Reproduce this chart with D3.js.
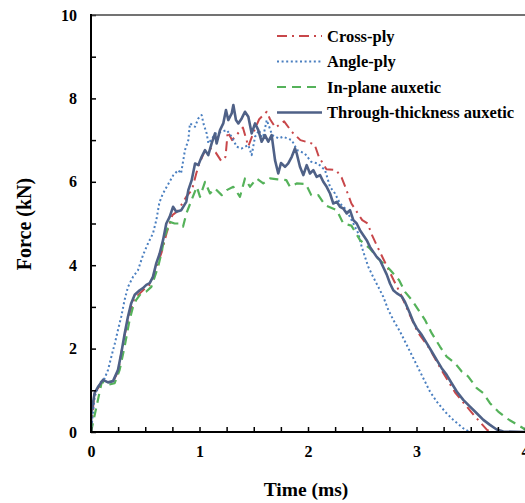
<!DOCTYPE html>
<html><head><meta charset="utf-8">
<script src="https://cdn.jsdelivr.net/npm/d3@7"></script>
<style>
html,body{margin:0;padding:0;background:#fff;}
svg{display:block;}
text{font-family:"Liberation Serif","Times New Roman",serif;font-weight:bold;fill:#000;}
</style></head>
<body>
<svg id="chart" width="525" height="503"></svg>
<script>
// ---- data ----
const xTicks = [0, 1, 2, 3, 4];
const yTicks = [0, 2, 4, 6, 8, 10];
const seriesNames = ["Cross-ply", "Angle-ply", "In-plane auxetic", "Through-thickness auxetic"];

const crossPly = [
[0,0],[0.03,0.9],[0.1,1.2],[0.2,1.2],[0.25,1.45],[0.3,2.2],[0.35,2.8],[0.4,3.2],[0.5,3.45],[0.55,3.55],
[0.6,3.95],[0.65,4.3],[0.7,4.8],[0.75,5.2],[0.8,5.3],[0.88,5.65],[0.93,5.8],[0.97,6.2],[1.0,6.45],[1.05,6.75],
[1.1,6.8],[1.15,6.7],[1.2,6.5],[1.24,6.6],[1.26,7.2],[1.3,7.0],[1.4,7.3],[1.45,6.85],[1.5,7.2],[1.55,7.5],
[1.62,7.68],[1.65,7.5],[1.7,7.3],[1.78,7.45],[1.85,7.2],[1.93,7.0],[2.06,6.9],[2.1,6.6],[2.17,6.3],[2.26,6.28],
[2.31,6.1],[2.34,5.9],[2.4,5.48],[2.43,5.36],[2.5,5.08],[2.55,5.0],[2.59,4.72],[2.64,4.44],[2.7,4.12],[2.76,3.8],
[2.79,3.64],[2.85,3.33],[2.94,2.8],[3.01,2.4],[3.12,2.0],[3.22,1.53],[3.36,0.93],[3.54,0.37],[3.65,0.05],[3.7,0],[4.0,0]
];

const anglePly = [
[0,0],[0.034,0.85],[0.08,1.17],[0.126,1.29],[0.157,1.49],[0.188,1.81],[0.22,2.13],[0.249,2.45],[0.279,2.77],[0.31,3.17],
[0.341,3.48],[0.387,3.72],[0.433,3.88],[0.479,4.24],[0.525,4.52],[0.571,4.76],[0.602,5.08],[0.63,5.5],[0.66,5.7],[0.698,5.88],
[0.759,6.16],[0.804,6.28],[0.83,6.2],[0.866,6.76],[0.897,7.0],[0.912,7.4],[0.958,7.32],[0.989,7.52],[1.02,7.6],[1.036,7.4],
[1.066,7.16],[1.082,6.92],[1.15,7.16],[1.205,7.2],[1.251,7.24],[1.297,7.08],[1.343,6.84],[1.389,6.8],[1.45,6.88],[1.481,6.64],
[1.512,7.08],[1.55,7.24],[1.58,7.0],[1.62,7.48],[1.67,7.12],[1.73,7.04],[1.77,7.08],[1.85,7.0],[1.9,6.76],[1.97,6.68],
[2.03,6.48],[2.09,6.44],[2.157,6.28],[2.203,5.88],[2.249,5.72],[2.295,5.48],[2.341,5.36],[2.387,5.16],[2.433,4.92],[2.464,4.76],
[2.495,4.44],[2.525,4.2],[2.556,3.96],[2.6,3.72],[2.648,3.48],[2.694,3.24],[2.74,2.93],[2.786,2.69],[2.848,2.41],[2.894,2.17],
[2.94,1.93],[2.986,1.69],[3.032,1.45],[3.078,1.21],[3.124,0.97],[3.186,0.73],[3.262,0.49],[3.339,0.29],[3.431,0.09],[3.49,0],[4.0,0]
];

const inPlaneAuxetic = [
[0,0],[0.05,0.6],[0.1,1.21],[0.157,1.13],[0.218,1.17],[0.264,1.49],[0.31,2.05],[0.356,2.69],[0.387,3.0],[0.417,3.17],
[0.463,3.33],[0.51,3.37],[0.556,3.48],[0.587,3.72],[0.618,3.96],[0.648,4.28],[0.679,4.68],[0.725,5.04],[0.771,5.0],[0.818,5.0],
[0.848,4.92],[0.879,5.24],[0.925,5.55],[0.975,5.88],[1.005,5.64],[1.051,6.0],[1.097,5.72],[1.143,5.84],[1.205,5.68],[1.251,5.8],
[1.312,5.88],[1.373,5.64],[1.419,6.08],[1.465,5.88],[1.527,6.08],[1.588,5.96],[1.65,6.08],[1.72,6.06],[1.8,6.04],[1.834,5.88],
[1.895,5.96],[1.98,5.95],[2.03,5.68],[2.095,5.68],[2.157,5.44],[2.265,5.32],[2.325,5.0],[2.4,4.95],[2.48,4.6],[2.57,4.4],
[2.65,4.15],[2.73,3.96],[2.76,3.88],[2.84,3.64],[2.894,3.36],[2.955,3.17],[3.017,2.93],[3.078,2.69],[3.14,2.37],[3.216,2.05],
[3.278,1.81],[3.355,1.65],[3.417,1.45],[3.477,1.33],[3.555,1.05],[3.616,0.93],[3.677,0.69],[3.753,0.49],[3.83,0.33],[3.907,0.21],
[3.984,0.09],[4.0,0.05]
];

const throughThickness = [
[0,0],[0.003,0.46],[0.034,0.94],[0.065,1.08],[0.11,1.25],[0.157,1.19],[0.203,1.22],[0.249,1.49],[0.279,1.89],[0.311,2.37],
[0.341,2.77],[0.371,3.09],[0.403,3.29],[0.449,3.4],[0.479,3.45],[0.51,3.53],[0.541,3.57],[0.571,3.72],[0.602,4.05],[0.633,4.28],
[0.664,4.6],[0.694,5.0],[0.725,5.16],[0.756,5.4],[0.786,5.28],[0.832,5.32],[0.878,5.52],[0.897,5.8],[0.928,6.04],[0.959,6.44],
[0.989,6.4],[1.02,6.6],[1.051,6.76],[1.081,6.64],[1.112,6.92],[1.143,7.16],[1.158,6.92],[1.189,7.24],[1.219,7.4],[1.244,7.72],
[1.265,7.48],[1.297,7.64],[1.312,7.84],[1.336,7.48],[1.358,7.4],[1.389,7.52],[1.419,7.68],[1.45,7.56],[1.481,7.16],[1.512,7.4],
[1.542,7.24],[1.573,6.96],[1.604,7.12],[1.634,6.96],[1.665,7.12],[1.696,6.52],[1.726,6.2],[1.751,6.45],[1.788,6.36],[1.818,6.44],
[1.85,6.6],[1.88,6.8],[1.896,6.68],[1.926,6.36],[1.957,6.16],[1.988,6.4],[2.018,6.2],[2.049,6.28],[2.08,6.12],[2.111,6.16],
[2.141,6.0],[2.172,5.88],[2.203,5.72],[2.233,5.48],[2.265,5.52],[2.295,5.4],[2.325,5.36],[2.357,5.24],[2.387,5.32],[2.418,5.08],
[2.449,5.0],[2.479,4.84],[2.51,4.72],[2.541,4.6],[2.571,4.44],[2.602,4.32],[2.633,4.2],[2.664,4.12],[2.694,3.95],[2.725,3.78],
[2.756,3.56],[2.786,3.4],[2.817,3.33],[2.864,3.25],[2.894,3.12],[2.94,2.84],[2.971,2.64],[3.002,2.49],[3.048,2.33],[3.094,2.13],
[3.14,1.93],[3.186,1.73],[3.232,1.53],[3.278,1.37],[3.324,1.17],[3.371,0.97],[3.431,0.77],[3.493,0.61],[3.555,0.45],[3.616,0.29],
[3.677,0.17],[3.739,0.06],[3.8,0.01],[4.0,0]
];

// ---- drawing ----
const svg = d3.select("#chart");
const x = d3.scaleLinear().domain([0, 4]).range([91, 525]);
const y = d3.scaleLinear().domain([0, 10]).range([432, 15]);

const series = [
  {name: seriesNames[0], data: crossPly, color: "#c8474a", width: 2, dash: "10,5,2,5"},
  {name: seriesNames[1], data: anglePly, color: "#4a7fc0", width: 2, dash: "2,2.6"},
  {name: seriesNames[2], data: inPlaneAuxetic, color: "#55b25a", width: 2.2, dash: "9,6"},
  {name: seriesNames[3], data: throughThickness, color: "#4f6187", width: 2.6, dash: null}
];

svg.append("defs").append("clipPath").attr("id","clip")
  .append("rect").attr("x",91).attr("y",10).attr("width",434).attr("height",423);

const line = d3.line().x(d => x(d[0])).y(d => y(d[1]));
const g = svg.append("g").attr("clip-path","url(#clip)");
series.forEach(s => {
  g.append("path").datum(s.data).attr("d", line)
    .attr("fill","none").attr("stroke", s.color).attr("stroke-width", s.width)
    .attr("stroke-dasharray", s.dash).attr("stroke-linejoin","round");
});

// axes
const xAxis = d3.axisBottom(x).tickValues(d3.range(0, 4.001, 0.25)).tickSize(-5).tickFormat("");
const gx = svg.append("g").attr("transform","translate(0,432)").call(xAxis);
gx.select(".domain").remove();
gx.selectAll(".tick line").attr("stroke","#000").attr("stroke-width",1.5);
const gxl = svg.append("g").attr("transform","translate(0,432)")
  .call(d3.axisBottom(x).tickValues(xTicks).tickSize(0).tickPadding(14).tickFormat(d3.format("d")));
gxl.select(".domain").remove();
gxl.selectAll("text").attr("font-size", 16).attr("font-family","Liberation Serif").attr("font-weight","bold").attr("fill","#000");

const yAxis = d3.axisLeft(y).tickValues(d3.range(0, 11, 1)).tickSize(-5).tickFormat("");
const gy = svg.append("g").attr("transform","translate(91,0)").call(yAxis);
gy.select(".domain").remove();
gy.selectAll(".tick line").attr("stroke","#000").attr("stroke-width",1.5);
const gyl = svg.append("g").attr("transform","translate(91,0)")
  .call(d3.axisLeft(y).tickValues(yTicks).tickSize(0).tickPadding(14).tickFormat(d3.format("d")));
gyl.select(".domain").remove();
gyl.selectAll("text").attr("font-size", 16).attr("font-family","Liberation Serif").attr("font-weight","bold").attr("fill","#000");

// frame
svg.append("line").attr("x1",91).attr("x2",525).attr("y1",15).attr("y2",15).attr("stroke","#444").attr("stroke-width",1.5);
svg.append("line").attr("x1",91).attr("x2",91).attr("y1",14).attr("y2",433).attr("stroke","#000").attr("stroke-width",2);
svg.append("line").attr("x1",90).attr("x2",525).attr("y1",432).attr("y2",432).attr("stroke","#000").attr("stroke-width",2);

// axis titles
svg.append("text").attr("x",306).attr("y",496).attr("text-anchor","middle").attr("font-size",19.5).text("Time (ms)");
svg.append("text").attr("transform","translate(31,224) rotate(-90)").attr("text-anchor","middle").attr("font-size",20).text("Force (kN)");

// legend
const leg = svg.append("g");
series.forEach((s, i) => {
  const cy = 36 + i * 25.5;
  leg.append("line").attr("x1",277).attr("x2",322).attr("y1",cy).attr("y2",cy)
    .attr("stroke", s.color).attr("stroke-width", s.width).attr("stroke-dasharray", s.dash);
  leg.append("text").attr("x",327).attr("y",cy+5.5).attr("font-size",16.5).text(s.name);
});
</script>
</body></html>
